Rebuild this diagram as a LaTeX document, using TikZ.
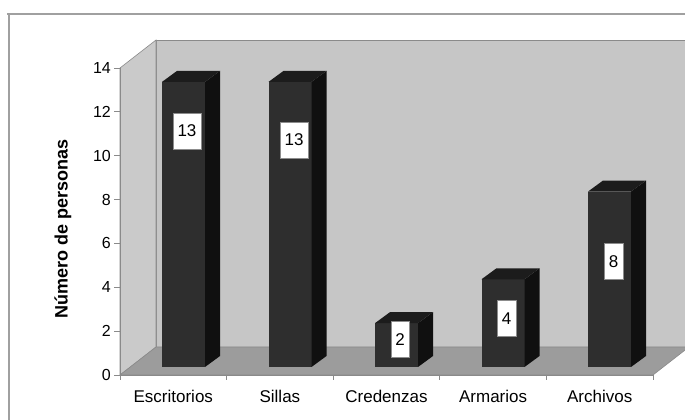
\documentclass[tikz,border=0pt]{standalone}
\usepackage{fontspec}
\setmainfont{Liberation Sans}
\definecolor{backwall}{HTML}{C6C6C6}
\definecolor{sidewall}{HTML}{CACACA}
\definecolor{floorgray}{HTML}{9C9C9C}
\definecolor{framegray}{HTML}{A0A0A0}
\definecolor{edgegray}{HTML}{8A8A8A}
\definecolor{barfront}{HTML}{2E2E2E}
\definecolor{barside}{HTML}{101010}
\definecolor{bartop}{HTML}{1C1C1C}
\begin{document}
\begin{tikzpicture}[x=1pt,y=1pt,
  wallstyle/.style={fill=#1, draw=edgegray, line width=0.6pt},
  valbox/.style={fill=white, draw=black!45, line width=0.4pt, inner xsep=4.5pt, inner ysep=0pt, minimum height=36pt, font=\fontsize{17}{19}\selectfont},
  catlabel/.style={font=\fontsize{17}{19}\selectfont, inner sep=0pt},
  ticklabel/.style={font=\fontsize{16}{18}\selectfont, anchor=east, inner sep=0pt},
  axisline/.style={draw=edgegray, line width=0.7pt}]
\useasboundingbox (0,0) rectangle (685,420);
\fill[white] (0,0) rectangle (685,420);
\begin{scope}
\clip (0,0) rectangle (685,420);
% outer frame
\draw[framegray, line width=1.4pt] (7,406) -- (690,406);
\draw[framegray, line width=1.4pt] (9,406) -- (9,-5);
% walls and floor
\path[wallstyle=backwall] (156,73) -- (156,380) -- (700,380) -- (700,73) -- cycle;
\path[wallstyle=sidewall] (120,45) -- (120,352) -- (156,380) -- (156,73) -- cycle;
\path[wallstyle=floorgray] (120,45) -- (653,45) -- (689,73) -- (156,73) -- cycle;
\end{scope}
% axes
\draw[axisline] (120,45) -- (120,352);
\draw[axisline] (120,45) -- (653,45);
\foreach \v in {0,2,...,14}{
  \draw[axisline] (114,45+21.93*\v) -- (120,45+21.93*\v);
  \node[ticklabel] (t\v) at (111,45+21.93*\v) {\v};
}
\foreach \k in {0,...,5}{
  \draw[axisline] (120+106.6*\k,45) -- (120+106.6*\k,40);
}
% bars
\foreach \i/\v in {0/13,1/13,2/2,3/4,4/8}{
  \pgfmathsetmacro\L{162+106.5*\i}
  \pgfmathsetmacro\T{53+21.93*\v}
  \fill[barfront] (\L,53) rectangle (\L+43,\T);
  \fill[barside] (\L+43,53) -- (\L+58,64) -- (\L+58,\T+11) -- (\L+43,\T) -- cycle;
  \fill[bartop] (\L,\T) -- (\L+15,\T+11) -- (\L+58,\T+11) -- (\L+43,\T) -- cycle;
}
% value labels
\node[valbox] (v0) at (187,289) {13};
\node[valbox] (v1) at (294,280) {13};
\node[valbox] (v2) at (400,80.5) {2};
\node[valbox] (v3) at (506.5,101.5) {4};
\node[valbox] (v4) at (613.5,158.5) {8};
% category labels
\foreach \k/\name in {0/Escritorios,1/Sillas,2/Credenzas,3/Armarios,4/Archivos}{
  \node[catlabel] (c\k) at (173.3+106.6*\k,24) {\name};
}
% axis title
\node[font=\bfseries\fontsize{18}{20}\selectfont, rotate=90, inner sep=0pt] (ytitle) at (63,191) {Número de personas};
\end{tikzpicture}
\end{document}
